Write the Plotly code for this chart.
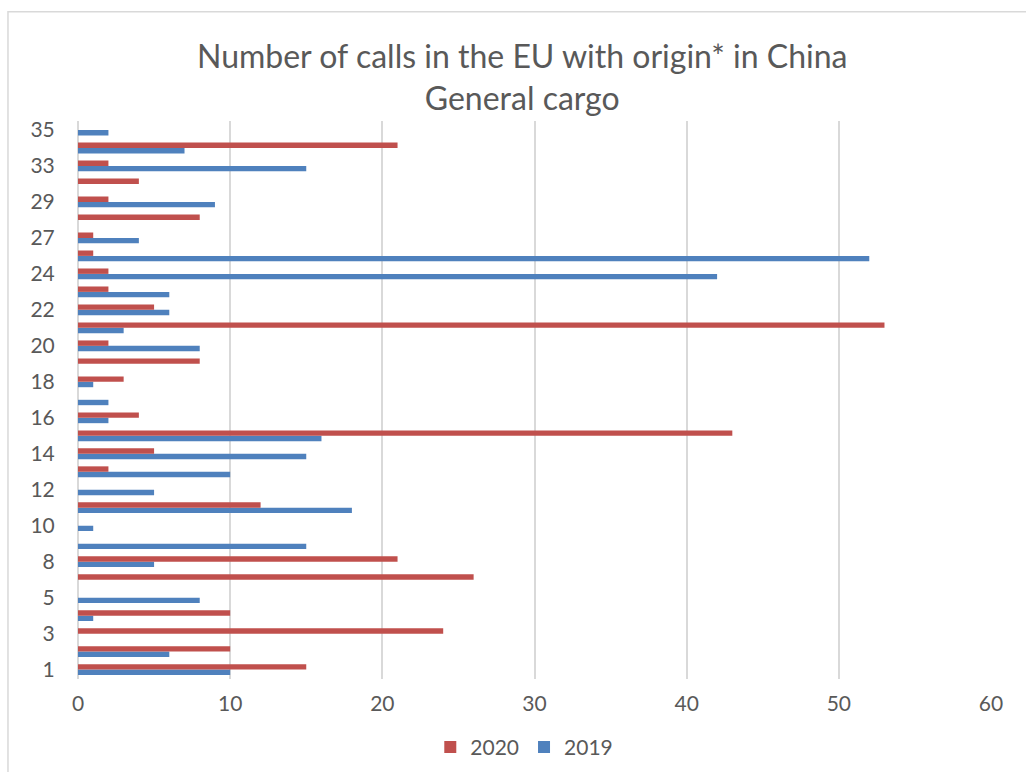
import plotly.graph_objects as go

# Port-of-origin categories (only every other one is labelled on the axis)
categories = ["1", "2", "3", "4", "5", "7", "8", "9", "10", "11", "12", "13", "14",
              "15", "16", "17", "18", "19", "20", "21", "22", "23", "24", "25",
              "27", "28", "29", "31", "33", "34", "35"]

calls_2020 = [15, 10, 24, 10, None, 26, 21, None, None, 12, None, 2, 5,
              43, 4, None, 3, 8, 2, 53, 5, 2, 2, 1,
              1, 8, 2, 4, 2, 21, None]

calls_2019 = [10, 6, None, 1, 8, None, 5, 15, 1, 18, 5, 10, 15,
              16, 2, 2, 1, None, 8, 3, 6, 6, 42, 52,
              4, None, 9, None, 15, 7, 2]

x_ticks = [0, 10, 20, 30, 40, 50, 60]

FONT = "Lato"
TEXT = "#595959"
GRID = "#D9D9D9"

fig = go.Figure()
fig.add_trace(go.Bar(y=categories, x=calls_2019, name="2019", orientation="h",
                     marker=dict(color="#4F81BD", line=dict(width=0))))
fig.add_trace(go.Bar(y=categories, x=calls_2020, name="2020", orientation="h",
                     marker=dict(color="#C0504D", line=dict(width=0))))

fig.update_layout(
    width=1026, height=772,
    margin=dict(l=78, r=35, t=121, b=91),
    paper_bgcolor="white", plot_bgcolor="white",
    font=dict(family=FONT, color=TEXT, size=21),
    barmode="group", bargap=0.40, bargroupgap=0,
    title=dict(text="Number of calls in the EU with origin* in China<br>General cargo",
               x=0.509, xref="container", xanchor="center",
               y=0.912, yref="container", yanchor="top",
               font=dict(family=FONT, size=32, color=TEXT)),
    legend=dict(orientation="h", x=0.511, xref="container", xanchor="center",
                y=0.032, yref="container", yanchor="middle",
                traceorder="reversed", font=dict(size=21, color=TEXT),
                itemwidth=30),
    showlegend=True,
)

fig.update_xaxes(range=[0, 60], tickvals=x_ticks, showgrid=True, gridcolor=GRID,
                 gridwidth=1.5, zeroline=True, zerolinecolor=GRID, zerolinewidth=1.5,
                 showline=False, ticks="outside", ticklen=6, tickcolor="rgba(0,0,0,0)",
                 tickfont=dict(size=21, color=TEXT))
fig.update_yaxes(type="category", categoryorder="array", categoryarray=categories,
                 tickvals=categories[::2], showgrid=False, zeroline=False,
                 showline=False, ticks="outside", ticklen=18, tickcolor="rgba(0,0,0,0)",
                 tickfont=dict(size=21, color=TEXT))

# Chart-area border
fig.add_shape(type="rect", xref="paper", yref="paper",
              x0=-0.0767, x1=1.3, y0=-0.4, y1=1.196,
              line=dict(color=GRID, width=1.5), fillcolor="rgba(0,0,0,0)", layer="below")

fig.write_html("out.html")
